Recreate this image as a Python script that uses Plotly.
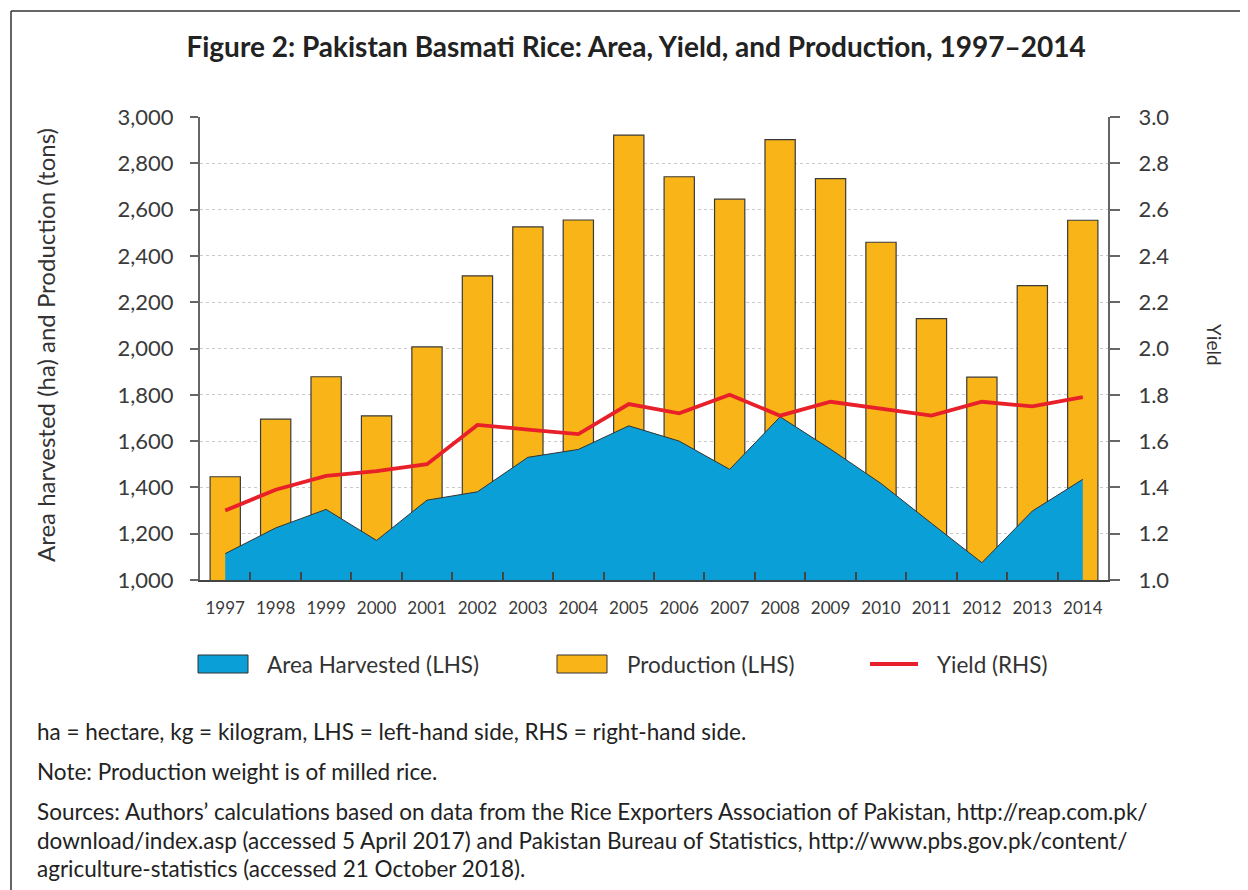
import plotly.graph_objects as go

years = [str(y) for y in range(1997, 2015)]
area_harvested = [1114, 1225, 1305, 1171, 1345, 1381, 1530, 1564, 1666, 1600,
                  1478, 1705, 1565, 1417, 1245, 1075, 1298, 1435]
production = [1446, 1695, 1878, 1709, 2007, 2314, 2525, 2555, 2922, 2742,
              2645, 2902, 2734, 2459, 2129, 1876, 2272, 2554]
yield_rhs = [1.30, 1.39, 1.45, 1.47, 1.50, 1.67, 1.65, 1.63, 1.76, 1.72,
             1.80, 1.71, 1.77, 1.74, 1.71, 1.77, 1.75, 1.79]

title_text = "Figure 2: Pakistan Basmati Rice: Area, Yield, and Production, 1997\u20132014"
legend_names = ["Area Harvested (LHS)", "Production (LHS)", "Yield (RHS)"]
notes = [
    "ha = hectare, kg = kilogram, LHS = left-hand side, RHS = right-hand side.",
    "Note: Production weight is of milled rice.",
    "Sources: Authors\u2019 calculations based on data from the Rice Exporters Association of Pakistan, http://reap.com.pk/",
    "download/index.asp (accessed 5 April 2017) and Pakistan Bureau of Statistics, http://www.pbs.gov.pk/content/",
    "agriculture-statistics (accessed 21 October 2018).",
]

FONT = "Lato, 'Open Sans', sans-serif"
BLUE = "#0a9fd6"
ORANGE = "#f9b518"
RED = "#e8202a"

# the page body adds 8px around the figure; plot area on screen is x 200..1108, y 117..580
OFF = 8

def px(x):
    return (x - 200) / 908

def py(y):
    return (580 - y) / 463

fig = go.Figure()

fig.add_trace(go.Bar(x=years, y=production, name=legend_names[1], width=0.6,
                     marker=dict(color=ORANGE, line=dict(color="#3a3a3a", width=1.2)),
                     showlegend=False))
fig.add_trace(go.Scatter(x=years, y=area_harvested, name=legend_names[0], mode="lines",
                         fill="tozeroy", fillcolor=BLUE,
                         line=dict(color="#333333", width=1), showlegend=False))
fig.add_trace(go.Scatter(x=years, y=yield_rhs, name=legend_names[2], mode="lines",
                         line=dict(color=RED, width=3.8), yaxis="y2", showlegend=False))

fig.update_layout(
    width=1248, height=890,
    margin=dict(l=200 - OFF, r=1248 - 1108 + OFF, t=117 - OFF, b=890 - 580 + OFF),
    paper_bgcolor="white", plot_bgcolor="white",
    font=dict(family=FONT, color="#333333"),
    title=dict(text="<b>" + title_text + "</b>", x=(636 - OFF) / 1248, xanchor="center",
               y=1 - (47 - OFF) / 890, yanchor="middle", yref="container",
               font=dict(size=28, color="#222222", family=FONT)),
    xaxis=dict(type="category", range=[-0.5, 17.5], tickson="boundaries",
               ticks="inside", ticklen=8, tickcolor="#444444", tickwidth=1.5,
               showline=True, linecolor="#444444", linewidth=1.5,
               showgrid=False, tickfont=dict(size=17, color="#3a3a3a"),
               ticklabelstandoff=12),
    yaxis=dict(range=[1000, 3000], dtick=200, tickformat=",", ticks="outside",
               ticklen=8, tickcolor="#666666", tickwidth=1.5,
               showline=True, linecolor="#666666", linewidth=2,
               showgrid=True, gridcolor="#c9c9c9", griddash="dot", gridwidth=1,
               zeroline=False, tickfont=dict(size=22, color="#3a3a3a"),
               ticklabelstandoff=12),
    yaxis2=dict(range=[1, 3], dtick=0.2, tickformat=".1f", overlaying="y", side="right",
                ticks="outside", ticklen=10, tickcolor="#666666", tickwidth=1.5,
                showline=True, linecolor="#666666", linewidth=2,
                showgrid=False, zeroline=False, tickfont=dict(size=22, color="#3a3a3a"),
                ticklabelstandoff=14),
    showlegend=False,
)

annotations = [
    dict(x=px(45), y=py(345), text="Area harvested (ha) and Production (tons)",
         textangle=-90, font=dict(size=24, color="#333333")),
    dict(x=px(1215), y=py(345), text="Yield", textangle=90,
         font=dict(size=19, color="#333333")),
]

# legend drawn by hand to get the wide swatches
shapes = [
    dict(type="rect", x0=px(198), x1=px(248), y0=py(673), y1=py(655),
         fillcolor=BLUE, line=dict(color="#333333", width=1)),
    dict(type="rect", x0=px(557), x1=px(607), y0=py(673), y1=py(655),
         fillcolor=ORANGE, line=dict(color="#333333", width=1)),
    dict(type="line", x0=px(870), x1=px(918), y0=py(664), y1=py(664),
         line=dict(color=RED, width=4)),
    # frame
    dict(type="line", x0=px(11), x1=px(1260), y0=py(11), y1=py(11),
         line=dict(color="#333333", width=1.5)),
    dict(type="line", x0=px(11), x1=px(11), y0=py(11), y1=py(900),
         line=dict(color="#333333", width=1.5)),
]
for name, lx in zip(legend_names, [265, 625, 935]):
    annotations.append(dict(x=px(lx), y=py(664), text=name, xanchor="left",
                            font=dict(size=22.5, color="#333333")))

for line, ny in zip(notes, [731, 771, 811, 840, 868]):
    annotations.append(dict(x=px(35), y=py(ny), text=line, xanchor="left",
                            font=dict(size=22.5, color="#222222")))

for a in annotations:
    a.update(xref="paper", yref="paper", showarrow=False)
    a.setdefault("xanchor", "center")
    a.setdefault("yanchor", "middle")

for s in shapes:
    s.update(xref="paper", yref="paper")

fig.update_layout(annotations=annotations, shapes=shapes)

fig.write_html("out.html")
